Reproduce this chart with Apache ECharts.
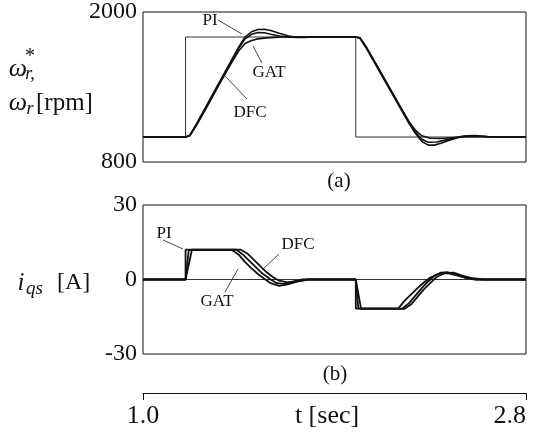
<!DOCTYPE html>
<html>
<head>
<meta charset="utf-8">
<script src="https://cdn.jsdelivr.net/npm/echarts@6/dist/echarts.min.js"></script>
<style>
	html, body { margin: 0; padding: 0; background: #fff; }
	#chart { width: 542px; height: 432px; }
</style>
</head>
<body>
<div id="chart"></div>
<script>
// (a) speed, rpm
var refT = [1.0, 1.2, 1.2, 2.0, 2.0, 2.8];
var refV = [1000, 1000, 1800, 1800, 1000, 1000];

var piT = [1.0, 1.2, 1.22, 1.25, 1.3, 1.35, 1.4, 1.45, 1.48, 1.51, 1.54, 1.57, 1.6, 1.64, 1.68, 1.72, 1.76, 1.8, 2.0, 2.02, 2.05, 2.1, 2.15, 2.2, 2.25, 2.28, 2.31, 2.34, 2.37, 2.4, 2.44, 2.48, 2.52, 2.56, 2.62, 2.8];
var piV = [1000, 1000, 1015, 1100, 1255, 1410, 1565, 1720, 1800, 1842, 1860, 1862, 1852, 1830, 1810, 1798, 1796, 1800, 1800, 1790, 1710, 1560, 1410, 1260, 1110, 1030, 965, 935, 935, 950, 975, 995, 1010, 1012, 1003, 1000];

var dfcT = [1.0, 1.2, 1.22, 1.25, 1.3, 1.35, 1.4, 1.45, 1.48, 1.51, 1.54, 1.57, 1.6, 1.64, 1.68, 1.72, 1.8, 2.0, 2.02, 2.05, 2.1, 2.15, 2.2, 2.25, 2.28, 2.31, 2.34, 2.38, 2.42, 2.46, 2.5, 2.55, 2.62, 2.8];
var dfcV = [1000, 1000, 1012, 1095, 1250, 1405, 1560, 1712, 1785, 1822, 1836, 1834, 1822, 1808, 1800, 1797, 1800, 1800, 1792, 1715, 1565, 1415, 1265, 1115, 1040, 982, 958, 960, 975, 992, 1006, 1010, 1002, 1000];

var gatT = [1.0, 1.2, 1.22, 1.25, 1.3, 1.35, 1.4, 1.45, 1.48, 1.51, 1.54, 1.58, 1.62, 1.66, 1.7, 1.75, 1.8, 2.0, 2.02, 2.05, 2.1, 2.15, 2.2, 2.25, 2.28, 2.31, 2.35, 2.4, 2.45, 2.5, 2.55, 2.62, 2.8];
var gatV = [1000, 1000, 1010, 1090, 1240, 1395, 1548, 1690, 1748, 1772, 1785, 1793, 1797, 1800, 1802, 1801, 1800, 1800, 1793, 1718, 1570, 1420, 1270, 1125, 1055, 1010, 990, 988, 994, 1000, 1005, 1002, 1000];

// (b) current iqs, A
var zeroT = [1.0, 2.8];
var zeroV = [0, 0];

var piIT = [1.0, 1.2, 1.2, 1.44, 1.47, 1.5, 1.53, 1.56, 1.6, 1.63, 1.66, 1.7, 1.75, 2.0, 2.0, 2.22, 2.25, 2.28, 2.31, 2.34, 2.37, 2.4, 2.43, 2.47, 2.51, 2.56, 2.8];
var piIV = [0, 0, 12, 12, 10, 7.5, 5, 2.5, 0, -1.5, -1.8, -1, 0, 0, -11.7, -11.7, -9.5, -6.5, -3.5, -0.8, 1.5, 2.8, 3, 2, 0.8, 0, 0];

var gatIT = [1.0, 1.2, 1.215, 1.42, 1.45, 1.48, 1.51, 1.54, 1.57, 1.6, 1.64, 1.68, 1.72, 1.77, 2.0, 2.012, 2.2, 2.23, 2.26, 2.29, 2.32, 2.35, 2.39, 2.43, 2.47, 2.52, 2.57, 2.8];
var gatIV = [0, 0, 11.8, 11.8, 10, 7, 4.5, 2.2, 0.3, -1.5, -2.6, -2, -1, 0, 0, -11.6, -11.6, -8.5, -6, -3.5, -1.2, 0.8, 2.3, 2.6, 1.8, 0.7, 0, 0];

var dfcIT = [1.0, 1.2, 1.23, 1.46, 1.49, 1.52, 1.55, 1.58, 1.61, 1.64, 1.68, 1.73, 1.78, 2.0, 2.025, 2.23, 2.26, 2.29, 2.32, 2.35, 2.38, 2.42, 2.46, 2.5, 2.55, 2.6, 2.8];
var dfcIV = [0, 0, 12, 12, 10.5, 8, 5.5, 3, 1, -0.5, -1.2, -0.6, 0, 0, -11.8, -11.8, -10, -7, -4, -1.5, 1, 2.6, 2.8, 1.6, 0.5, 0, 0];

var speedTicks = [800, 2000];
var currentTicks = [-30, 0, 30];
var timeTicks = [1.0, 2.8];

var serif = '"Liberation Serif", "DejaVu Serif", serif';
var ink = '#111';

function zip(ts, vs) {
	return ts.map(function(t, i) {
		return [t, vs[i]];
	});
}

function trace(name, ts, vs, idx, width, color) {
	return {
		name: name,
		type: 'line',
		xAxisIndex: idx,
		yAxisIndex: idx,
		data: zip(ts, vs),
		showSymbol: false,
		symbol: 'none',
		silent: true,
		animation: false,
		lineStyle: { color: color || ink, width: width },
	};
}

function txt(x, y, s, size, opts) {
	opts = opts || {};
	return {
		type: 'text',
		x: x,
		y: y,
		silent: true,
		style: {
			text: s,
			font: (opts.italic ? 'italic ' : '') + size + 'px ' + serif,
			fill: ink,
			align: opts.align || 'center',
			textAlign: opts.align || 'center',
			verticalAlign: 'middle',
			textVerticalAlign: 'middle',
		},
	};
}

function lead(x1, y1, x2, y2) {
	return {
		type: 'line',
		silent: true,
		shape: { x1: x1, y1: y1, x2: x2, y2: y2 },
		style: { stroke: '#333', lineWidth: 0.9 },
	};
}

var chart = echarts.init(document.getElementById('chart'));

var yLabel = {
	fontFamily: serif,
	fontSize: 24,
	color: ink,
	margin: 6,
	formatter: function(v) {
		return String(v);
	},
};

var option = {
	backgroundColor: '#fff',
	animation: false,
	grid: [
		{ left: 143, top: 12, width: 383, height: 150, show: true, borderColor: ink, borderWidth: 1, outerBoundsMode: 'none', containLabel: false },
		{ left: 143, top: 205, width: 383, height: 149, show: true, borderColor: ink, borderWidth: 1, outerBoundsMode: 'none', containLabel: false },
	],
	xAxis: [
		{ gridIndex: 0, type: 'value', min: 1.0, max: 2.8, show: false },
		{ gridIndex: 1, type: 'value', min: 1.0, max: 2.8, show: false },
		{
			gridIndex: 1,
			type: 'value',
			position: 'bottom',
			offset: 39,
			min: timeTicks[0],
			max: timeTicks[1],
			interval: timeTicks[1] - timeTicks[0],
			axisLine: { show: true, lineStyle: { color: ink, width: 1 } },
			axisTick: { show: true, inside: false, length: 7, lineStyle: { color: ink } },
			splitLine: { show: false },
			axisLabel: {
				fontFamily: serif,
				fontSize: 26,
				color: ink,
				margin: 10,
				alignMaxLabel: 'right',
				formatter: function(v) {
					return v.toFixed(1);
				},
			},
		},
	],
	yAxis: [
		{
			gridIndex: 0,
			type: 'value',
			min: speedTicks[0],
			max: speedTicks[1],
			interval: speedTicks[1] - speedTicks[0],
			axisLine: { show: false },
			axisTick: { show: false },
			splitLine: { show: false },
			axisLabel: yLabel,
		},
		{
			gridIndex: 1,
			type: 'value',
			min: currentTicks[0],
			max: currentTicks[2],
			interval: currentTicks[1] - currentTicks[0],
			axisLine: { show: false },
			axisTick: { show: false },
			splitLine: { show: false },
			axisLabel: yLabel,
		},
	],
	series: [
		trace('ref', refT, refV, 0, 1, '#333'),
		trace('GAT', gatT, gatV, 0, 1.6),
		trace('DFC', dfcT, dfcV, 0, 1.6),
		trace('PI', piT, piV, 0, 1.6),
		trace('zero', zeroT, zeroV, 1, 1, '#333'),
		trace('GAT', gatIT, gatIV, 1, 1.8),
		trace('DFC', dfcIT, dfcIV, 1, 1.8),
		trace('PI', piIT, piIV, 1, 1.8),
	],
	graphic: [
		// y titles
		txt(18, 69, 'ω', 26, { italic: true }),
		txt(30, 57, '*', 20),
		txt(30, 74, 'r,', 18, { italic: true }),
		txt(18, 103, 'ω', 26, { italic: true }),
		txt(30, 109, 'r', 18, { italic: true }),
		txt(36, 103, '[rpm]', 25, { align: 'left' }),
		txt(21, 283, 'i', 25, { italic: true }),
		txt(26, 289, 'qs', 19, { italic: true, align: 'left' }),
		txt(57, 283, '[A]', 24, { align: 'left' }),
		// x title
		txt(327, 416, 't [sec]', 26),
		// panel captions
		txt(339, 181, '(a)', 21),
		txt(335, 374, '(b)', 21),
		// annotations (a)
		txt(210, 21, 'PI', 17),
		lead(218, 20, 242, 34),
		txt(269, 73, 'GAT', 17),
		lead(262, 63, 253, 46),
		txt(250, 113, 'DFC', 17),
		lead(247, 99, 225, 76),
		// annotations (b)
		txt(164, 234, 'PI', 17),
		lead(163, 240, 183, 249),
		txt(298, 245, 'DFC', 17),
		lead(279, 254, 262, 270),
		txt(217, 302, 'GAT', 17),
		lead(225, 292, 238, 269),
	],
};

chart.setOption(option);
</script>
</body>
</html>
